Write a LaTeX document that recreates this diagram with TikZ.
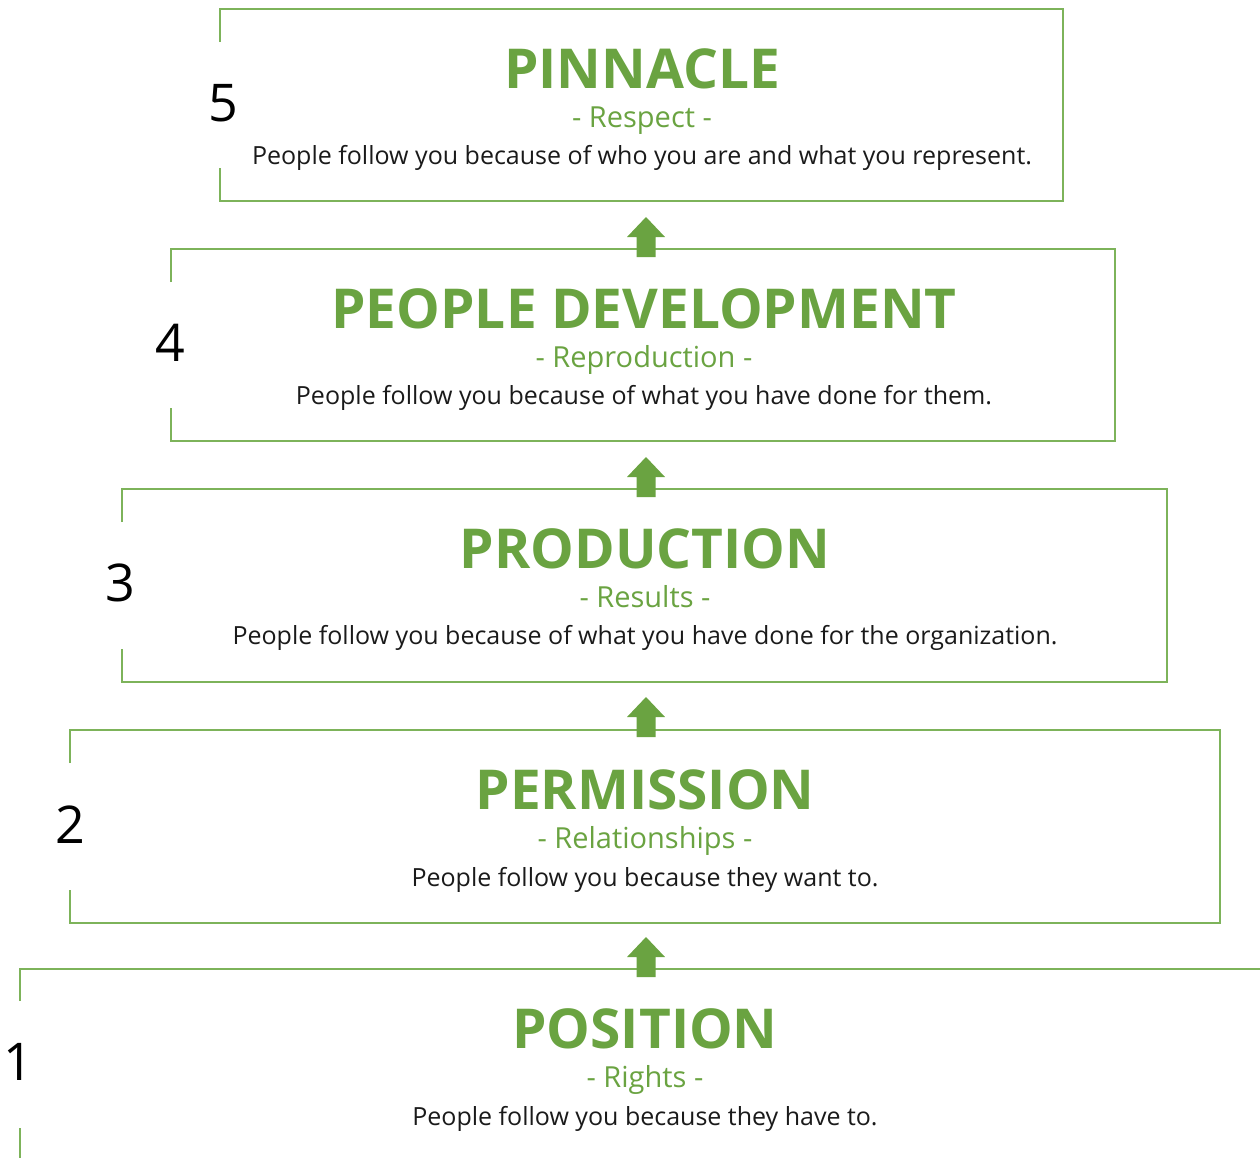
\documentclass[tikz,border=0pt]{standalone}
\usepackage{fontspec}
\setmainfont{Open Sans}
\definecolor{tgreen}{HTML}{6AA341}
\definecolor{lgreen}{HTML}{7DB35A}
\definecolor{ink}{HTML}{1A1A1A}
\tikzset{
  frame/.style={draw=lgreen, line width=2pt},
  boxn/.style={draw=none, inner sep=0pt, outer sep=0pt},
  ttl/.style={anchor=base, text=tgreen, font=\fontsize{55}{60}\selectfont\bfseries, inner sep=0pt},
  sub/.style={anchor=base, text=tgreen, font=\fontsize{29}{32}\selectfont, inner sep=0pt},
  body/.style={anchor=base, text=ink, font=\fontsize{25}{28}\selectfont, inner sep=0pt},
  num/.style={anchor=center, text=black, font=\fontsize{52}{56}\selectfont, inner sep=0pt},
  uparrow/.style={fill=tgreen, draw=none}
}
\begin{document}
\begin{tikzpicture}[x=1pt,y=-1pt]
\useasboundingbox (0,0) rectangle (1260,1157);
\clip (0,0) rectangle (1260,1157);

% boxes
\node[boxn, minimum width=843pt, minimum height=192pt] (b5) at (641.5,105) {};
\node[boxn, minimum width=944pt, minimum height=192pt] (b4) at (643,345) {};
\node[boxn, minimum width=1045pt, minimum height=193pt] (b3) at (644.5,585.5) {};
\node[boxn, minimum width=1150pt, minimum height=193pt] (b2) at (645,826.5) {};
\node[boxn, minimum width=1290pt, minimum height=240pt] (b1) at (665,1089) {};

\foreach \b in {b5,b4,b3,b2}{
  \draw[frame] ([yshift=-33pt]\b.north west) -- (\b.north west) -- (\b.north east)
     -- (\b.south east) -- (\b.south west) -- ([yshift=33pt]\b.south west);
}
\draw[frame] ([yshift=-32pt]b1.north west) -- (b1.north west) -- (b1.north east);
\draw[frame] ([yshift=81pt]b1.south west) -- (b1.south west);

% arrows
\foreach \a/\t in {a5/217,a4/457,a3/697,a2/937}{
  \coordinate (\a) at (646,\t);
  \fill[uparrow] (\a) -- ++(19,20) -- ++(-9.5,0) -- ++(0,20) -- ++(-19,0) -- ++(0,-20) -- ++(-9.5,0) -- cycle;
}

% numbers
\node[num] (n5) at (223,103) {5};
\node[num] (n4) at (170,343) {4};
\node[num] (n3) at (120,583) {3};
\node[num] (n2) at (70,825) {2};
\node[num] (n1) at (18,1062) {1};

% texts
\node[ttl] (t5) at (642,88) {PINNACLE};
\node[sub] (s5) at (642,127) {- Respect -};
\node[body] (d5) at (642,164) {People follow you because of who you are and what you represent.};

\node[ttl] (t4) at (644,328) {PEOPLE DEVELOPMENT};
\node[sub] (s4) at (644,367) {- Reproduction -};
\node[body] (d4) at (644,404) {People follow you because of what you have done for them.};

\node[ttl] (t3) at (645,568) {PRODUCTION};
\node[sub] (s3) at (645,607) {- Results -};
\node[body] (d3) at (645,644) {People follow you because of what you have done for the organization.};

\node[ttl] (t2) at (645,809) {PERMISSION};
\node[sub] (s2) at (645,848) {- Relationships -};
\node[body] (d2) at (645,886) {People follow you because they want to.};

\node[ttl] (t1) at (645,1048) {POSITION};
\node[sub] (s1) at (645,1087) {- Rights -};
\node[body] (d1) at (645,1125) {People follow you because they have to.};
\end{tikzpicture}
\end{document}
